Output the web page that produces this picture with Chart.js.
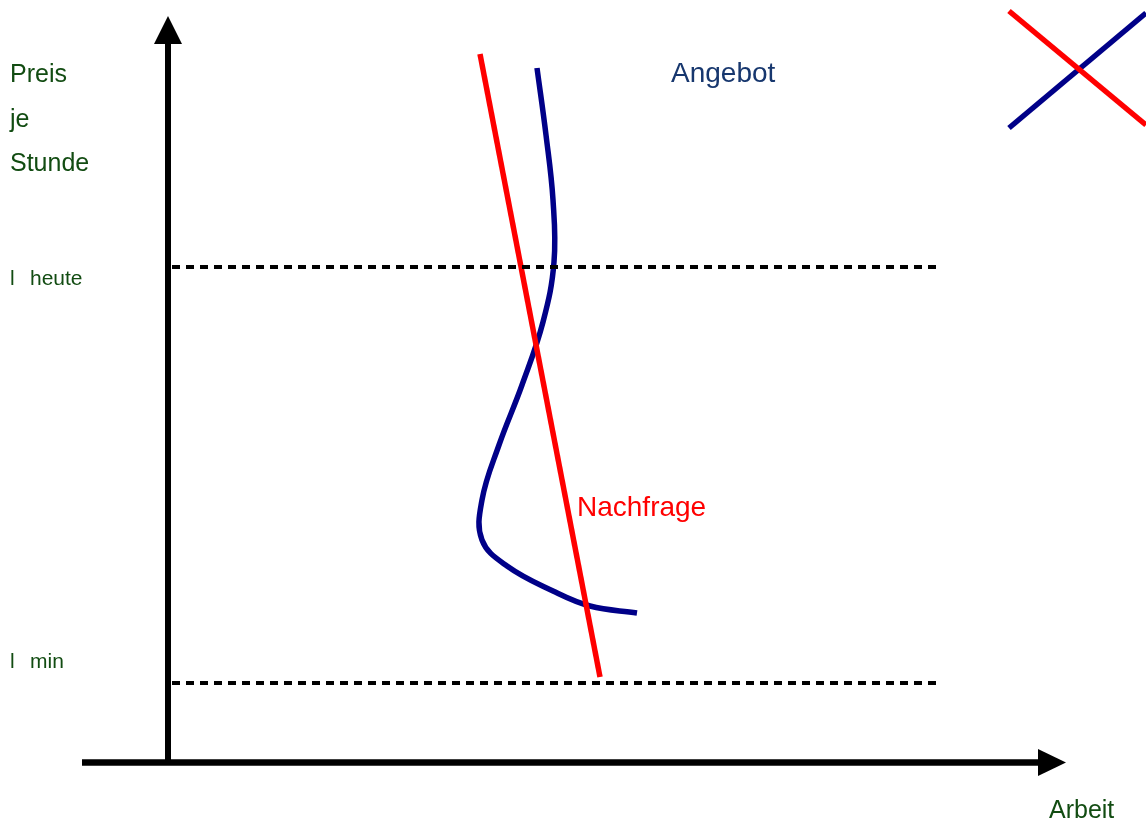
<!DOCTYPE html>
<html>
<head>
<meta charset="utf-8">
<script src="https://cdn.jsdelivr.net/npm/chart.js@4/dist/chart.umd.min.js"></script>
<style>
  html, body { margin: 0; padding: 0; background: #fff; }
  canvas { display: block; }
</style>
</head>
<body>
<canvas id="diagram" width="1146" height="821"></canvas>
<script>
// diagram coordinates (x to the right, y downwards)
var nachfrage = [{x: 480, y: 54}, {x: 600, y: 677}];
var angebot = [
    {x: 537, y: 68}, {x: 546, y: 135}, {x: 553, y: 200}, {x: 554, y: 262},
    {x: 543, y: 322}, {x: 522, y: 385}, {x: 499, y: 445}, {x: 482, y: 500},
    {x: 482, y: 540}, {x: 507, y: 566}, {x: 553, y: 591}, {x: 590, y: 606},
    {x: 637, y: 613}
];
var lohnHeute = [{x: 172, y: 267}, {x: 938, y: 267}];
var lohnMin = [{x: 172, y: 683}, {x: 938, y: 683}];
var yAxisLine = [{x: 168, y: 765}, {x: 168, y: 40}];
var xAxisLine = [{x: 82, y: 762.5}, {x: 1042, y: 762.5}];
var iconRed = [{x: 1009, y: 11}, {x: 1146, y: 125}];
var iconBlue = [{x: 1009, y: 128}, {x: 1146, y: 13}];

var textGreen = '#124c12';

function line(data, color, width, dash) {
    return {
        data: data,
        showLine: true,
        borderColor: color,
        borderWidth: width,
        borderDash: dash || [],
        pointRadius: 0,
        tension: 0
    };
}

var curve = line(angebot, '#000088', 5.5);
curve.tension = 0.4;

var labels = {
    id: 'labels',
    afterDatasetsDraw: function (chart) {
        var c = chart.ctx;
        var sx = chart.scales.x, sy = chart.scales.y;
        function px(x) { return sx.getPixelForValue(x); }
        function py(y) { return sy.getPixelForValue(y); }

        // arrow heads
        c.save();
        c.fillStyle = '#000';
        c.beginPath();
        c.moveTo(px(168), py(16));
        c.lineTo(px(182), py(44));
        c.lineTo(px(154), py(44));
        c.closePath();
        c.fill();
        c.beginPath();
        c.moveTo(px(1066), py(762.5));
        c.lineTo(px(1038), py(749));
        c.lineTo(px(1038), py(776));
        c.closePath();
        c.fill();

        c.textBaseline = 'alphabetic';
        c.fillStyle = textGreen;
        c.font = '25px "Liberation Sans", Arial, sans-serif';
        c.fillText('Preis', 10, 82);
        c.fillText('je', 10, 127);
        c.fillText('Stunde', 10, 171);
        c.fillText('Arbeit', 1049, 818);
        c.font = '21px "Liberation Sans", Arial, sans-serif';
        c.fillText('l', 10, 285);
        c.fillText('heute', 30, 285);
        c.fillText('l', 10, 668);
        c.fillText('min', 30, 668);

        c.font = '28px "Liberation Sans", Arial, sans-serif';
        c.fillStyle = '#17376e';
        c.fillText('Angebot', 671, 82);
        c.fillStyle = '#ff0000';
        c.fillText('Nachfrage', 577, 516);
        c.restore();
    }
};

new Chart(document.getElementById('diagram'), {
    type: 'scatter',
    data: {
        datasets: [
            line(yAxisLine, '#000', 6),
            line(xAxisLine, '#000', 6.5),
            line(lohnHeute, '#000', 4, [8, 6]),
            line(lohnMin, '#000', 4, [8, 6]),
            line(nachfrage, '#ff0000', 5.5),
            curve,
            line(iconRed, '#ff0000', 5.5),
            line(iconBlue, '#000088', 5.5)
        ]
    },
    options: {
        responsive: false,
        animation: false,
        layout: { padding: 0 },
        plugins: {
            legend: { display: false },
            tooltip: { enabled: false }
        },
        scales: {
            x: { type: 'linear', min: 0, max: 1146, display: false },
            y: { type: 'linear', min: 0, max: 821, reverse: true, display: false }
        },
        elements: { line: { capBezierPoints: false } }
    },
    plugins: [labels]
});
</script>
</body>
</html>
